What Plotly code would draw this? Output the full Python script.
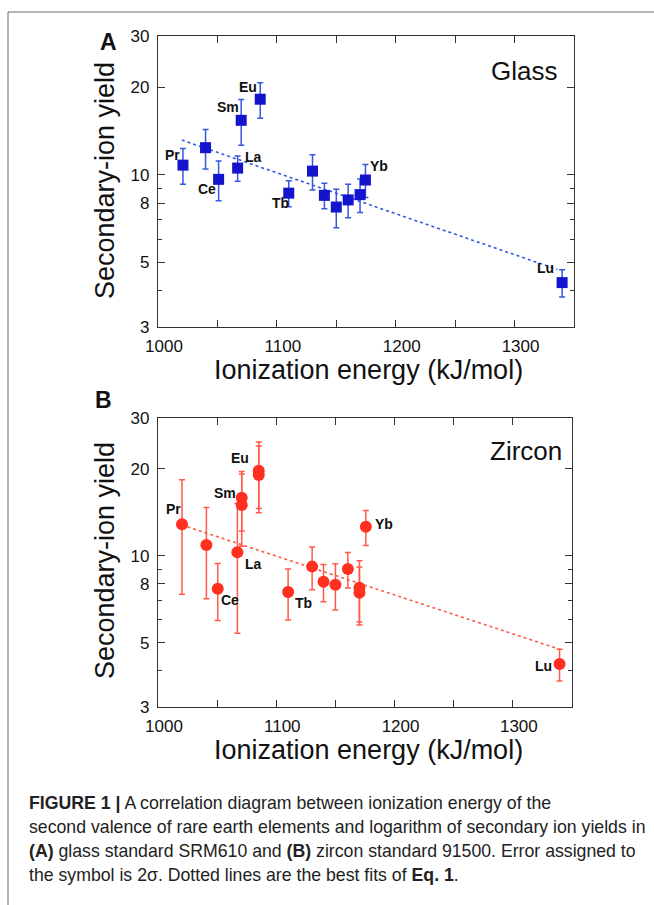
import numpy as np
import plotly.graph_objects as go

# ---------------- data ----------------
glass_elements = ["Pr", "Nd", "Ce", "La", "Sm", "Eu", "Tb", "Dy", "Ho", "Er", "Tm", "Gd", "Yb", "Lu"]
glass_energy = [1021, 1040, 1051, 1067, 1070, 1086, 1110, 1130, 1140, 1150, 1160, 1170, 1174.5, 1340]
glass_yield = [10.8, 12.4, 9.65, 10.55, 15.4, 18.2, 8.65, 10.3, 8.5, 7.75, 8.2, 8.55, 9.6, 4.26]
glass_err = [1.52, 1.92, 1.5, 1.05, 2.75, 2.55, 0.89, 1.43, 0.86, 1.17, 1.08, 1.13, 1.25, 0.46]
glass_fit_energy = [1020, 1336]
glass_fit_yield = [13.17, 4.73]

zircon_elements = ["Pr", "Nd", "Ce", "La", "Sm", "Sm", "Eu", "Eu", "Tb", "Dy", "Ho", "Er", "Tm", "Gd", "Gd", "Yb", "Lu"]
zircon_energy = [1020.3, 1040.9, 1050.5, 1067.1, 1070.8, 1070.8, 1085.2, 1085.2, 1110, 1130.3, 1139.9,
                 1150, 1160.5, 1170.3, 1170.3, 1175.7, 1339.5]
zircon_yield = [12.86, 10.9, 7.70, 10.3, 15.9, 15.0, 19.7, 19.05, 7.50, 9.18, 8.14, 7.95, 9.01, 7.76, 7.46, 12.62, 4.22]
zircon_err = [5.5, 3.8, 1.72, 4.9, 3.7, 4.2, 5.1, 4.95, 1.5, 1.55, 1.2, 1.45, 1.27, 1.86, 1.7, 1.75, 0.53]
zircon_fit_energy = [1020, 1339.5]
zircon_fit_yield = [12.8, 4.75]

x_tickvals = [1000, 1050, 1100, 1150, 1200, 1250, 1300]
x_ticktext = ["1000", "", "1100", "", "1200", "", "1300"]
y_tickvals = [3, 5, 8, 10, 20, 30]
y_ticktext = ["3", "5", "8", "10", "20", "30"]
y_minor_vals = [4, 6, 7, 9]

# label offsets in pixels (dx right, dy down) relative to point, styling only
glass_label_offsets = {"Pr": (-10, -10), "Ce": (-12, 10), "La": (16, -11), "Sm": (-13, -13),
                       "Eu": (-12, -12), "Tb": (-8, 10), "Yb": (14, -14), "Lu": (-17, -15)}
zircon_label_offsets = {0: (-9, -15), 2: (12, 11), 3: (16, 12), 4: (-17, -5),
                        6: (-19, -13), 8: (15, 11), 15: (18, -3), 16: (-16, 2)}

W, H = 654, 905
FONT = "Liberation Sans, Arial, Helvetica, sans-serif"

BLUE = "#1414cc"
BLUE_ERR = "#3558e0"
RED = "#ff3020"
RED_ERR = "#ff5a48"

fig = go.Figure()

# ---- panel A ----
fig.add_trace(go.Scatter(x=glass_fit_energy, y=glass_fit_yield, mode="lines",
                         line=dict(color=BLUE_ERR, width=1.6, dash="dot"),
                         xaxis="x", yaxis="y", showlegend=False, hoverinfo="skip"))
fig.add_trace(go.Scatter(x=glass_energy, y=glass_yield, mode="markers",
                         marker=dict(symbol="square", size=11, color=BLUE, line=dict(width=0)),
                         error_y=dict(type="data", array=glass_err, color=BLUE_ERR, thickness=1.5, width=3),
                         xaxis="x", yaxis="y", showlegend=False))

# ---- panel B ----
fig.add_trace(go.Scatter(x=zircon_fit_energy, y=zircon_fit_yield, mode="lines",
                         line=dict(color=RED_ERR, width=1.6, dash="dot"),
                         xaxis="x2", yaxis="y2", showlegend=False, hoverinfo="skip"))
fig.add_trace(go.Scatter(x=zircon_energy, y=zircon_yield, mode="markers",
                         marker=dict(symbol="circle", size=12, color=RED, line=dict(width=0)),
                         error_y=dict(type="data", array=zircon_err, color=RED_ERR, thickness=1.5, width=3),
                         xaxis="x2", yaxis="y2", showlegend=False))


def px_x(p):
    return p / W


def px_y(p):
    return 1 - p / H


axis_common = dict(showline=True, linecolor="#333333", linewidth=1.3, mirror="ticks",
                   ticks="inside", tickcolor="#333333", tickwidth=1.2, automargin=False,
                   showgrid=False, zeroline=False,
                   tickfont=dict(family=FONT, size=17, color="#111111"))

xa = dict(axis_common, range=[1000, 1350], tickmode="array", tickvals=x_tickvals, ticktext=x_ticktext,
          ticklen=7, ticklabelstandoff=3, ticklabelshift=6)
ya = dict(axis_common, type="log", range=[np.log10(3) - 0.0004, np.log10(30) + 0.0004],
          tickmode="array", tickvals=y_tickvals, ticktext=y_ticktext, ticklen=7, ticklabelstandoff=4,
          minor=dict(tickmode="array", tickvals=y_minor_vals, ticks="inside", ticklen=4,
                     tickcolor="#333333", tickwidth=1.2))

fig.update_layout(
    width=W, height=H,
    margin=dict(l=0, r=0, t=0, b=0, pad=0, autoexpand=False),
    paper_bgcolor="white", plot_bgcolor="white",
    xaxis=dict(xa, domain=[px_x(158), px_x(574)], anchor="y"),
    yaxis=dict(ya, domain=[px_y(327), px_y(36)], anchor="x"),
    xaxis2=dict(xa, domain=[px_x(158), px_x(572)], anchor="y2"),
    yaxis2=dict(ya, domain=[px_y(707), px_y(418)], anchor="x2"),
)

ann = []


def text_ann(x, y, text, size, bold=False, angle=0, xanchor="center", yanchor="middle", color="#111111"):
    ann.append(dict(x=px_x(x), y=px_y(y), xref="paper", yref="paper", text=text, showarrow=False,
                    textangle=angle, xanchor=xanchor, yanchor=yanchor,
                    font=dict(family=FONT, size=size, color=color,
                              weight="bold" if bold else "normal")))


# axis titles
text_ann(368, 370, "Ionization energy (kJ/mol)", 27)
text_ann(368, 750, "Ionization energy (kJ/mol)", 27)
text_ann(105, 181, "Secondary-ion yield", 27, angle=-90)
text_ann(105, 561, "Secondary-ion yield", 27, angle=-90)
# panel letters
text_ann(108, 42, "A", 23, bold=True)
text_ann(103, 400, "B", 23, bold=True)
# sample names
text_ann(524, 71, "Glass", 26)
text_ann(526, 451, "Zircon", 26)

# element labels
for i, el in enumerate(glass_elements):
    if el in glass_label_offsets:
        dx, dy = glass_label_offsets[el]
        ann.append(dict(x=glass_energy[i], y=np.log10(glass_yield[i]), xref="x", yref="y", text=el,
                        showarrow=False, xshift=dx, yshift=-dy,
                        font=dict(family=FONT, size=14, color="#111111", weight="bold")))
for i, el in enumerate(zircon_elements):
    if i in zircon_label_offsets:
        dx, dy = zircon_label_offsets[i]
        ann.append(dict(x=zircon_energy[i], y=np.log10(zircon_yield[i]), xref="x2", yref="y2", text=el,
                        showarrow=False, xshift=dx, yshift=-dy,
                        font=dict(family=FONT, size=14, color="#111111", weight="bold")))

# caption
caption_lines = [
    "<b>FIGURE 1 |</b> A correlation diagram between ionization energy of the",
    "second valence of rare earth elements and logarithm of secondary ion yields in",
    "<b>(A)</b> glass standard SRM610 and <b>(B)</b> zircon standard 91500. Error assigned to",
    "the symbol is 2σ. Dotted lines are the best fits of <b>Eq. 1</b>.",
]
for k, line in enumerate(caption_lines):
    text_ann(27, 803 + 24 * k, line, 17.7, xanchor="left", color="#222222")

fig.update_layout(annotations=ann)

# outer frame (top and left lines)
fig.add_shape(type="line", xref="paper", yref="paper", x0=px_x(8), y0=px_y(12), x1=1.0, y1=px_y(12),
              line=dict(color="#666666", width=1))
fig.add_shape(type="line", xref="paper", yref="paper", x0=px_x(8), y0=px_y(12), x1=px_x(8), y1=0,
              line=dict(color="#666666", width=1))

fig.write_html("out.html", config={"displayModeBar": False},
               post_script="document.body.style.margin='0';document.body.style.padding='0';"
                           "document.body.style.overflow='hidden';"
                           "document.documentElement.style.overflow='hidden';")
